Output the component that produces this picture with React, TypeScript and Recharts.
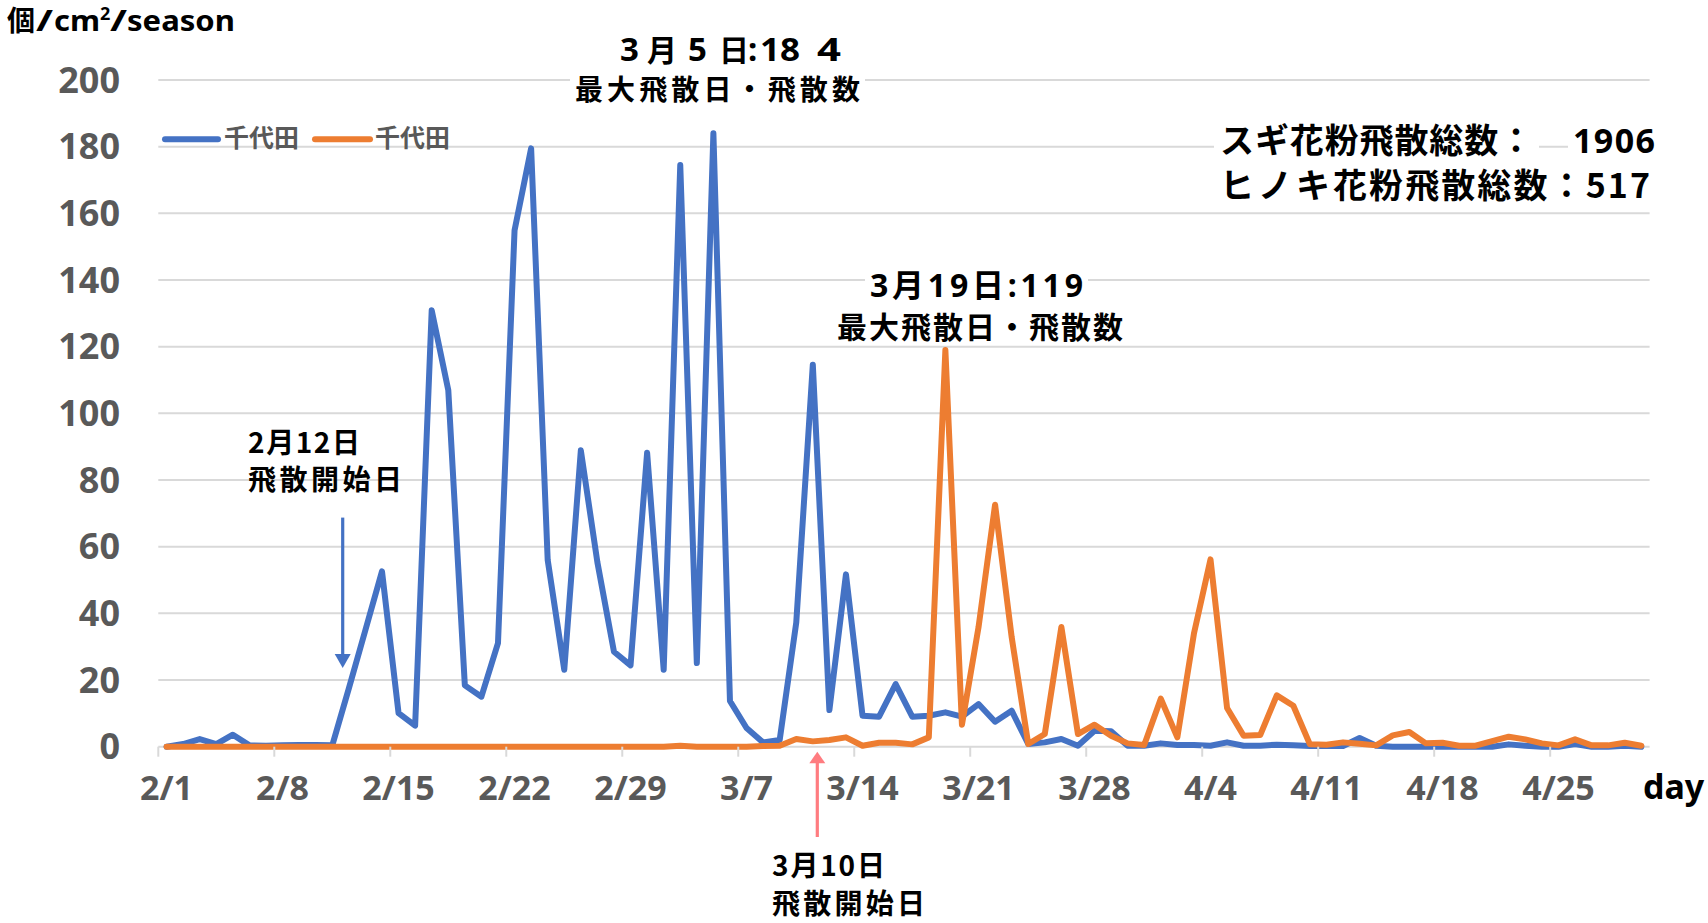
import React from 'react';
import { LineChart, Line, XAxis, YAxis, CartesianGrid } from 'recharts';

const W = 1708;
const H = 923;
const PLOT_LEFT = 158.3;
const PLOT_RIGHT = 1649.6;
const PLOT_TOP = 80;
const PLOT_BOTTOM = 746.7;

const months: [string, number][] = [['2', 29], ['3', 31], ['4', 30]];
const dates: string[] = [];
months.forEach(([m, n]) => {
  for (let d = 1; d <= n; d++) dates.push(`${m}/${d}`);
});

// スギ (blue)
const sugi = [
  0, 0.8, 2.3, 0.8, 3.6, 0.4, 0.3, 0.4, 0.5, 0.5,
  0.4, 17.5, 35, 52.6, 10.1, 6.3, 130.9, 107, 18.4, 15,
  31.1, 154.9, 179.5, 56, 23.1, 88.9, 55.3, 28.5, 24.4, 88.2,
  23.1, 174.5, 25.1, 184, 13.7, 5.6, 1.3, 2.0, 37.2, 114.6,
  11.0, 51.7, 9.3, 9.0, 18.8, 9.0, 9.3, 10.3, 9.0, 12.8,
  7.5, 10.8, 0.8, 1.3, 2.3, 0.3, 4.8, 4.6, 0.3, 0.3,
  1.0, 0.5, 0.5, 0.3, 1.3, 0.3, 0.3, 0.6, 0.4, 0.2,
  0.2, 0.2, 2.6, 0.3, 0, 0, 0, 0, 0, 0,
  0, 0.7, 0.3, 0, 0, 0.8, 0, 0, 0.3, 0,
];

// ヒノキ (orange)
const hinoki = [
  0, 0, 0, 0, 0, 0, 0, 0, 0, 0,
  0, 0, 0, 0, 0, 0, 0, 0, 0, 0,
  0, 0, 0, 0, 0, 0, 0, 0, 0, 0,
  0, 0.3, 0, 0, 0, 0, 0.2, 0.3, 2.3, 1.6,
  2.0, 2.8, 0.3, 1.2, 1.2, 0.7, 2.8, 119, 6.6, 35.8,
  72.6, 32.9, 0.8, 3.8, 35.9, 3.8, 6.6, 3.3, 1.0, 0.5,
  14.4, 2.8, 33.9, 56.2, 11.6, 3.3, 3.5, 15.4, 12.3, 0.7,
  0.6, 1.3, 0.9, 0.4, 3.4, 4.4, 1.0, 1.2, 0.3, 0.3,
  1.7, 3.0, 2.2, 1.0, 0.4, 2.2, 0.4, 0.4, 1.2, 0.3,
];

const tickLabels = ['2/1', '2/8', '2/15', '2/22', '2/29', '3/7', '3/14', '3/21', '3/28', '4/4', '4/11', '4/18', '4/25'];
const yTicks = [0, 20, 40, 60, 80, 100, 120, 140, 160, 180, 200];
const seriesNames = ['千代田', '千代田'];

const data = dates.map((d, i) => ({ i, date: d, sugi: sugi[i], hinoki: hinoki[i] }));
const xTicks = tickLabels.map((l) => dates.indexOf(l));

const HALF_DAY = (PLOT_RIGHT - PLOT_LEFT) / dates.length / 2;
const LATIN = "'Noto Sans', 'Noto Sans CJK JP', sans-serif";
const CJK = "'Noto Sans CJK JP', 'Noto Sans', sans-serif";
const GRAY = '#595959';
const BLUE = '#4472C4';
const ORANGE = '#ED7D31';
const LINE_W = 6;

const XTick = (props: any) => {
  const { x, payload } = props;
  const tx = x - HALF_DAY;
  return (
    <g>
      <line x1={tx} x2={tx} y1={PLOT_BOTTOM} y2={PLOT_BOTTOM + 10} stroke="#D9D9D9" strokeWidth={2} />
      <text x={x} y={PLOT_BOTTOM + 53} textAnchor="middle" fill={GRAY} fontSize={34} fontWeight={700} fontFamily={LATIN}>
        {dates[payload.value]}
      </text>
    </g>
  );
};

const YTick = (props: any) => {
  const { y, payload } = props;
  return (
    <text x={120} y={y + 12.5} textAnchor="end" fill={GRAY} fontSize={36} fontWeight={700} fontFamily={LATIN}>
      {payload.value}
    </text>
  );
};

const Overlay = () => (
  <svg width={W} height={H} style={{ position: 'absolute', left: 0, top: 0, pointerEvents: 'none' }}>
    {/* unit label */}
    <text y={31} fill="#000" fontSize={28} fontWeight={700} fontFamily={CJK}>
      <tspan x={7}>個</tspan>
      <tspan x={36} fontFamily={LATIN} textLength={17} lengthAdjust="spacingAndGlyphs">/</tspan>
      <tspan x={54} fontFamily={LATIN} textLength={46} lengthAdjust="spacingAndGlyphs">cm</tspan>
      <tspan x={100} y={20} fontSize={18} fontFamily={LATIN}>2</tspan>
      <tspan x={110} y={31} fontFamily={LATIN} textLength={17} lengthAdjust="spacingAndGlyphs">/</tspan>
      <tspan x={127} fontFamily={LATIN} textLength={108} lengthAdjust="spacingAndGlyphs">season</tspan>
    </text>

    {/* legend */}
    <line x1={165} x2={218} y1={139.3} y2={139.3} stroke={BLUE} strokeWidth={LINE_W} strokeLinecap="round" />
    <text x={224} y={147} fill={GRAY} fontSize={25} fontWeight={700} fontFamily={CJK}>{seriesNames[0]}</text>
    <line x1={315} x2={370} y1={139.3} y2={139.3} stroke={ORANGE} strokeWidth={LINE_W} strokeLinecap="round" />
    <text x={375} y={147} fill={GRAY} fontSize={25} fontWeight={700} fontFamily={CJK}>{seriesNames[1]}</text>

    {/* 3/5 peak annotation */}
    <text y={61} fill="#000" fontSize={33} fontWeight={700} fontFamily={LATIN}>
      <tspan x={620}>3</tspan>
      <tspan x={647} fontFamily={CJK} fontSize={30}>月</tspan>
      <tspan x={688}>5</tspan>
      <tspan x={719} fontFamily={CJK} fontSize={30}>日</tspan>
      <tspan x={748}>:</tspan>
      <tspan x={760} textLength={40} lengthAdjust="spacingAndGlyphs">18</tspan>
      <tspan x={817} textLength={24} lengthAdjust="spacingAndGlyphs">4</tspan>
    </text>
    <rect x={570} y={74} width={295} height={32} fill="#fff" />
    <text x={575} y={100} fill="#000" fontSize={28} fontWeight={700} fontFamily={CJK} textLength={285} lengthAdjust="spacing">最大飛散日・飛散数</text>

    {/* 3/19 peak annotation */}
    <rect x={865} y={268} width={223} height={36} fill="#fff" />
    <text x={870} y={297} fill="#000" fontSize={32} fontWeight={700} fontFamily={LATIN} textLength={213} lengthAdjust="spacing">3月19日:119</text>
    <text x={837} y={338} fill="#000" fontSize={30} fontWeight={700} fontFamily={CJK} textLength={286} lengthAdjust="spacing">最大飛散日・飛散数</text>

    {/* totals */}
    <rect x={1214} y={124} width={325} height={36} fill="#fff" />
    <rect x={1568} y={124} width={92} height={36} fill="#fff" />
    <text x={1220} y={153} fill="#000" fontSize={34} fontWeight={700} fontFamily={CJK} textLength={313} lengthAdjust="spacing">スギ花粉飛散総数：</text>
    <text x={1573} y={153} fill="#000" fontSize={34} fontWeight={700} fontFamily={LATIN} textLength={82} lengthAdjust="spacing">1906</text>
    <text x={1220} y={198} fill="#000" fontSize={34} fontWeight={700} fontFamily={CJK} textLength={110} lengthAdjust="spacing">ヒノキ</text>
    <text x={1333} y={198} fill="#000" fontSize={34} fontWeight={700} fontFamily={CJK} textLength={317} lengthAdjust="spacing">花粉飛散総数：517</text>

    {/* 2/12 start annotation */}
    <text x={248} y={453} fill="#000" fontSize={28} fontWeight={700} fontFamily={CJK} textLength={112} lengthAdjust="spacing">2月12日</text>
    <text x={248} y={490} fill="#000" fontSize={28} fontWeight={700} fontFamily={CJK} textLength={154} lengthAdjust="spacing">飛散開始日</text>
    <line x1={342.7} x2={342.7} y1={517.6} y2={656} stroke={BLUE} strokeWidth={3.2} />
    <polygon points="334.7,654 350.7,654 342.7,668" fill={BLUE} />

    {/* 3/10 start annotation */}
    <line x1={817.3} x2={817.3} y1={837} y2={761} stroke="#FF7C80" strokeWidth={3.2} />
    <polygon points="809.3,763.3 825.3,763.3 817.3,751.7" fill="#FF7C80" />
    <text x={772} y={876} fill="#000" fontSize={28} fontWeight={700} fontFamily={CJK} textLength={113} lengthAdjust="spacing">3月10日</text>
    <text x={772} y={914} fill="#000" fontSize={28} fontWeight={700} fontFamily={CJK} textLength={153} lengthAdjust="spacing">飛散開始日</text>

    {/* x axis title */}
    <text x={1643} y={799} fill="#000" fontSize={34} fontWeight={700} fontFamily={LATIN}>day</text>
  </svg>
);

export default function App() {
  return (
    <div style={{ position: 'absolute', left: 0, top: 0, width: W, height: H, background: '#fff' }}>
      <LineChart
        width={W}
        height={H}
        data={data}
        margin={{ top: PLOT_TOP, right: W - PLOT_RIGHT, bottom: 0, left: 0 }}
      >
        <CartesianGrid vertical={false} stroke="#D9D9D9" strokeWidth={2} />
        <XAxis
          type="number"
          dataKey="i"
          domain={[-0.5, dates.length - 0.5]}
          ticks={xTicks}
          interval={0}
          axisLine={false}
          tickLine={false}
          tick={<XTick />}
          height={H - PLOT_BOTTOM}
        />
        <YAxis
          type="number"
          domain={[0, 200]}
          ticks={yTicks}
          interval={0}
          axisLine={false}
          tickLine={false}
          tick={<YTick />}
          width={PLOT_LEFT}
        />
        <Line
          type="linear"
          dataKey="sugi"
          name={seriesNames[0]}
          stroke={BLUE}
          strokeWidth={LINE_W}
          strokeLinejoin="round"
          strokeLinecap="round"
          dot={false}
          isAnimationActive={false}
        />
        <Line
          type="linear"
          dataKey="hinoki"
          name={seriesNames[1]}
          stroke={ORANGE}
          strokeWidth={LINE_W}
          strokeLinejoin="round"
          strokeLinecap="round"
          dot={false}
          isAnimationActive={false}
        />
      </LineChart>
      <Overlay />
    </div>
  );
}
